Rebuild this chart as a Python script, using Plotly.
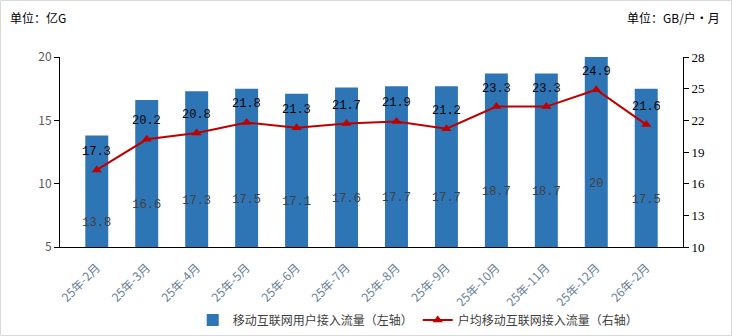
import plotly.graph_objects as go

# Monthly mobile internet traffic figures
months = ["25年-2月", "25年-3月", "25年-4月", "25年-5月", "25年-6月", "25年-7月",
          "25年-8月", "25年-9月", "25年-10月", "25年-11月", "25年-12月", "26年-2月"]
total_traffic = [13.8, 16.6, 17.3, 17.5, 17.1, 17.6, 17.7, 17.7, 18.7, 18.7, 20, 17.5]
per_user_traffic = [17.3, 20.2, 20.8, 21.8, 21.3, 21.7, 21.9, 21.2, 23.3, 23.3, 24.9, 21.6]

left_ticks = [5, 10, 15, 20]
right_ticks = [10, 13, 16, 19, 22, 25, 28]

CJK = "Noto Sans CJK SC"
MONO = "Liberation Mono"
BAR_COLOR = "#2E75B6"
LINE_COLOR = "#C00000"

PLOT_W = 623
PLOT_H = 190

fig = go.Figure()

fig.add_trace(go.Bar(
    x=months, y=total_traffic,
    name="移动互联网用户接入流量（左轴）",
    marker=dict(color=BAR_COLOR, line=dict(width=0)),
    text=[f"{v:g}" for v in total_traffic],
    textposition="inside", insidetextanchor="middle", textangle=0,
    textfont=dict(family=MONO, size=12, color="#404040"),
    constraintext="none",
    yaxis="y",
))

fig.add_trace(go.Scatter(
    x=months, y=per_user_traffic,
    name="户均移动互联网接入流量（右轴）",
    mode="lines+markers",
    line=dict(color=LINE_COLOR, width=2),
    marker=dict(symbol="triangle-up", size=9, color=LINE_COLOR),
    yaxis="y2",
))

# Value labels above each point of the per-user line
for m, v in zip(months, per_user_traffic):
    fig.add_annotation(
        x=m, y=v, xref="x", yref="y2", text=f"{v:g}",
        showarrow=False, yshift=18,
        font=dict(family=MONO, size=12, color="#000000"),
    )

# Unit captions
fig.add_annotation(x=-52 / PLOT_W, y=1 + 40 / PLOT_H, xref="paper", yref="paper",
                   xanchor="left", yanchor="middle", text="单位：亿G", showarrow=False,
                   font=dict(family=CJK, size=12, color="#000000"))
fig.add_annotation(x=1 + 39 / PLOT_W, y=1 + 40 / PLOT_H, xref="paper", yref="paper",
                   xanchor="right", yanchor="middle", text="单位：GB/户・月", showarrow=False,
                   font=dict(family=CJK, size=12, color="#000000"))

fig.update_layout(
    width=732, height=336,
    margin=dict(l=60, r=49, t=57, b=89, autoexpand=False),
    paper_bgcolor="white", plot_bgcolor="white",
    bargap=0.54,
    showlegend=True,
    legend=dict(orientation="h", x=0.575, xanchor="center",
                yref="container", y=1 - 320 / 336, yanchor="middle",
                font=dict(family=CJK, size=12, color="#404040"),
                itemwidth=30, traceorder="normal", tracegroupgap=0),
    xaxis=dict(
        tickangle=-45, tickfont=dict(family=CJK, size=12, color="#6a7f99"),
        showline=True, linecolor="#000000", linewidth=1,
        ticks="", showgrid=False, automargin=False, ticklabelstandoff=8,
    ),
    yaxis=dict(
        range=[5, 20], tickvals=left_ticks,
        tickfont=dict(family=CJK, size=12, color="#595959"),
        showline=True, linecolor="#000000", linewidth=1,
        ticks="outside", ticklen=5, tickcolor="#000000",
        showgrid=False, zeroline=False, automargin=False,
    ),
    yaxis2=dict(
        range=[10, 28], tickvals=right_ticks, overlaying="y", side="right",
        tickfont=dict(family="Liberation Serif", size=13, color="#000000"),
        showline=True, linecolor="#000000", linewidth=1,
        ticks="outside", ticklen=5, tickcolor="#000000",
        showgrid=False, zeroline=False, automargin=False,
    ),
    shapes=[dict(type="rect", xref="paper", yref="paper",
                 x0=-59.5 / PLOT_W, x1=1 + 48.5 / PLOT_W,
                 y0=-88.5 / PLOT_H, y1=1 + 56.5 / PLOT_H,
                 line=dict(color="#d9d9d9", width=1))],
)

fig.write_html("out.html")
